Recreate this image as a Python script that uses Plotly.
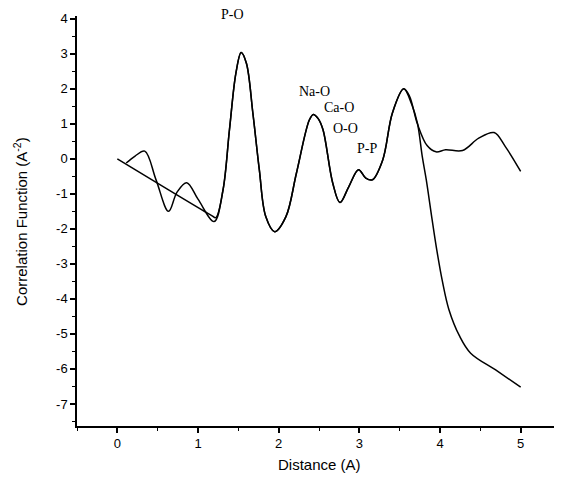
import plotly.graph_objects as go

# oscillating curve (upper branch at large r)
dist_a = [0.11, 0.22, 0.34, 0.48, 0.635, 0.74, 0.86, 1.0, 1.2, 1.31, 1.39, 1.47, 1.535, 1.6,
          1.68, 1.76, 1.84, 1.95, 2.09, 2.22, 2.38, 2.43, 2.49, 2.55, 2.67, 2.76, 2.87, 2.99, 3.08,
          3.16, 3.29, 3.41, 3.55, 3.62, 3.72, 3.84, 3.95, 4.07, 4.28, 4.48, 4.67, 4.81, 5.0]
corr_a = [-0.12, 0.08, 0.22, -0.6, -1.5, -0.95, -0.68, -1.15, -1.79, -0.89, 0.83, 2.45, 3.04, 2.73,
          1.31, -0.31, -1.65, -2.08, -1.65, -0.41, 1.11, 1.27, 1.15, 0.83, -0.69, -1.25, -0.79, -0.31, -0.55,
          -0.6, -0.03, 1.31, 2.0, 1.8, 1.0, 0.38, 0.2, 0.26, 0.24, 0.59, 0.75, 0.35, -0.36]

# curve with linear start and steep fall after 3.6 A
dist_b = [0.0, 1.17, 1.22, 1.31, 1.39, 1.47, 1.535, 1.6, 1.68, 1.76, 1.84, 1.95, 2.09, 2.22,
          2.38, 2.43, 2.49, 2.55, 2.67, 2.76, 2.87, 2.99, 3.08, 3.16, 3.29, 3.41, 3.55, 3.65, 3.72,
          3.78, 3.83, 3.90, 3.96, 4.03, 4.11, 4.24, 4.38, 4.69, 5.0]
corr_b = [0.0, -1.62, -1.68, -0.89, 0.83, 2.45, 3.04, 2.73, 1.31, -0.31, -1.65, -2.08, -1.65, -0.41,
          1.11, 1.27, 1.15, 0.83, -0.69, -1.25, -0.79, -0.31, -0.55, -0.6, -0.03, 1.31, 2.0, 1.55, 1.02,
          0.07, -0.6, -1.7, -2.6, -3.5, -4.3, -5.05, -5.55, -6.03, -6.52]

peak_labels = ['P-O', 'Na-O', 'Ca-O', 'O-O', 'P-P']
label_x = [1.43, 2.44, 2.75, 2.83, 3.09]
label_y = [4.11, 1.91, 1.46, 0.86, 0.31]

x_ticks = [0, 1, 2, 3, 4, 5]
y_ticks = [4, 3, 2, 1, 0, -1, -2, -3, -4, -5, -6, -7]
y_ticktext = [str(v) for v in y_ticks]

y_lo, y_hi = -7.63, 4.08
title_font = dict(family='Liberation Sans', size=15, color='black')

fig = go.Figure()
for xs, ys in [(dist_a, corr_a), (dist_b, corr_b)]:
    fig.add_trace(go.Scatter(x=xs, y=ys, mode='lines',
                             line=dict(color='black', width=1.5, shape='spline', smoothing=1.0),
                             showlegend=False, hoverinfo='skip', cliponaxis=False))

for txt, lx, ly in zip(peak_labels, label_x, label_y):
    if ly > y_hi:
        fig.add_annotation(x=lx, y=(ly - y_lo) / (y_hi - y_lo), yref='paper', text=txt, showarrow=False,
                           xanchor='center', yanchor='middle',
                           font=dict(family='Liberation Serif', size=14, color='black'))
    else:
        fig.add_annotation(x=lx, y=ly, text=txt, showarrow=False, xanchor='center', yanchor='middle',
                           font=dict(family='Liberation Serif', size=14, color='black'))

# axis titles as annotations so they sit where the original has them
fig.add_annotation(xref='paper', yref='paper', x=0.5, y=-0.095, text='Distance (A)',
                   xanchor='center', yanchor='middle', showarrow=False, font=title_font)
fig.add_annotation(xref='paper', yref='paper', x=-0.118, y=0.5, textangle=-90,
                   xanchor='center', yanchor='middle',
                   text='Correlation Function (A<sup>-2</sup>)', showarrow=False, font=title_font)

axis_common = dict(showline=True, linecolor='black', linewidth=1.5, ticks='outside', ticklen=5,
                   tickwidth=1.5, tickcolor='black', showgrid=False, zeroline=False, automargin=False,
                   tickfont=dict(family='Liberation Sans', size=13, color='black'),
                   minor=dict(dtick=0.5, ticks='outside', ticklen=3, tickcolor='black', tickwidth=1))

fig.update_xaxes(range=[-0.5, 5.5], tickvals=x_ticks, **axis_common)
fig.update_yaxes(range=[y_lo, y_hi], tickvals=y_ticks, ticktext=y_ticktext, **axis_common)

fig.update_layout(width=562, height=485, plot_bgcolor='white', paper_bgcolor='white',
                  margin=dict(l=69, r=9, t=8, b=67))
fig.write_html("out.html")
